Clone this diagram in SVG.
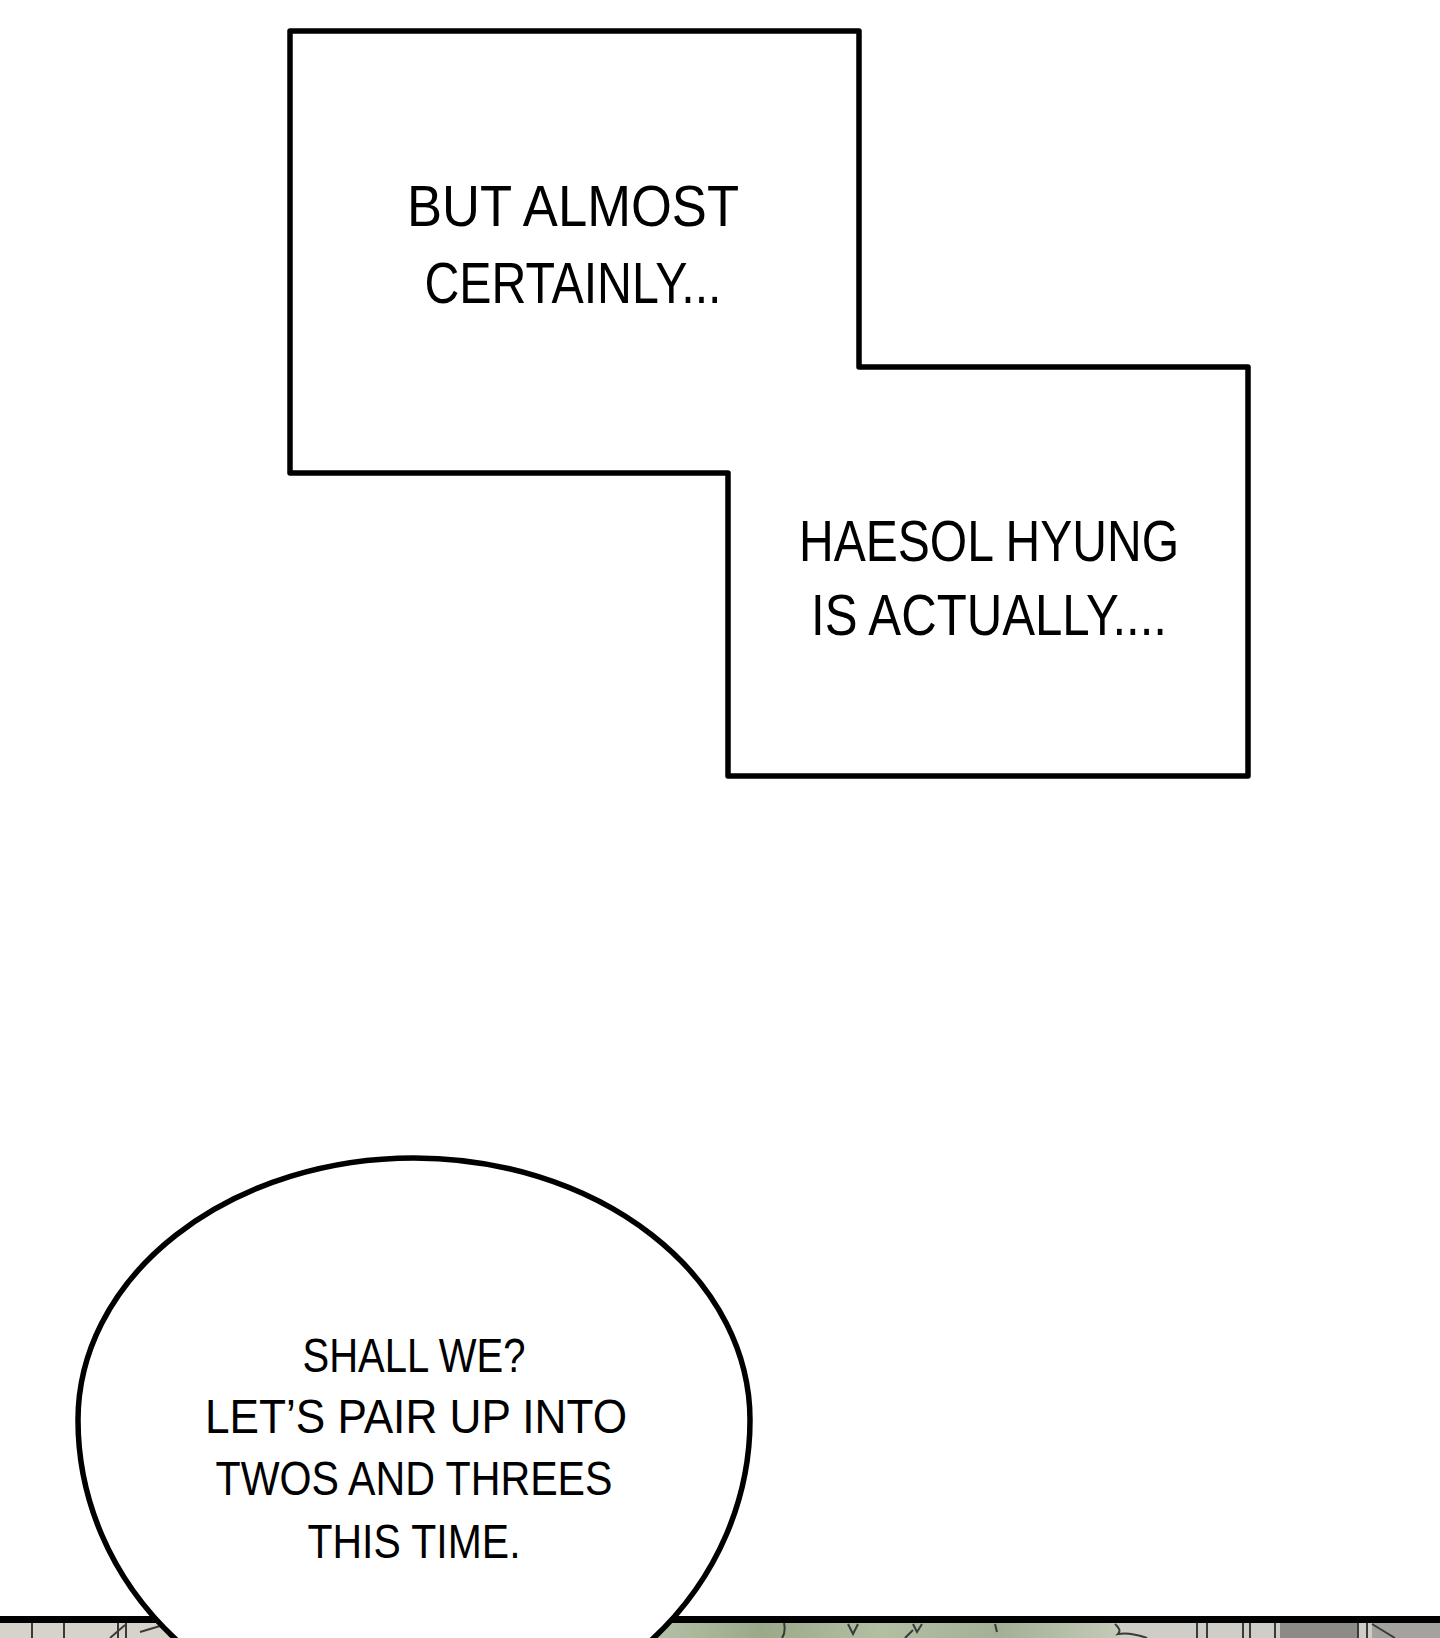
<svg xmlns="http://www.w3.org/2000/svg" width="1440" height="1638" viewBox="0 0 1440 1638">
  <style>
    .outline { fill: #ffffff; stroke: #000000; stroke-width: 5.5; stroke-linejoin: round; }
    .txt { font-family: "Liberation Sans", "DejaVu Sans", sans-serif; fill: #000000; text-anchor: middle; }
    .box { font-size: 57px; }
    .bub { font-size: 48px; }
  </style>
  <defs>
    <linearGradient id="foliage" x1="0" y1="0" x2="1" y2="0">
      <stop offset="0" stop-color="#b9c4ab"/>
      <stop offset="0.25" stop-color="#9aa98a"/>
      <stop offset="0.5" stop-color="#b3bfa3"/>
      <stop offset="0.75" stop-color="#a4b095"/>
      <stop offset="1" stop-color="#c4cbb8"/>
    </linearGradient>
  </defs>
  <rect x="0" y="0" width="1440" height="1638" fill="#ffffff"/>

  <!-- bottom panel strip -->
  <g id="bottom-panel">
    <rect x="0" y="1622" width="1440" height="16" fill="#d6d4ca"/>
    <rect x="640" y="1622" width="480" height="16" fill="url(#foliage)"/>
    <rect x="1120" y="1622" width="320" height="16" fill="#cfcdc7"/>
    <rect x="1280" y="1622" width="78" height="16" fill="#8c8b88"/>
    <rect x="1372" y="1622" width="68" height="16" fill="#a3a29f"/>
    <g stroke="#3a3a38" stroke-width="2" fill="none">
      <line x1="32" y1="1622" x2="32" y2="1638"/>
      <line x1="64" y1="1622" x2="64" y2="1638"/>
      <line x1="118" y1="1622" x2="118" y2="1638"/>
      <line x1="126" y1="1622" x2="126" y2="1638"/>
      <line x1="110" y1="1638" x2="125" y2="1625"/>
      <line x1="140" y1="1632" x2="160" y2="1626"/>
      <line x1="1197" y1="1622" x2="1197" y2="1638"/>
      <line x1="1207" y1="1622" x2="1207" y2="1638"/>
      <line x1="1243" y1="1622" x2="1243" y2="1638"/>
      <line x1="1250" y1="1622" x2="1250" y2="1638"/>
      <line x1="1275" y1="1622" x2="1275" y2="1638"/>
      <line x1="1358" y1="1622" x2="1358" y2="1638"/>
      <line x1="1367" y1="1622" x2="1367" y2="1638"/>
      <line x1="1372" y1="1624" x2="1395" y2="1638"/>
      <path d="M784,1623 Q786,1632 782,1638"/>
      <path d="M848,1624 L853,1634 L858,1624"/>
      <path d="M913,1624 L917,1632 L922,1624 M905,1638 L913,1630"/>
      <path d="M995,1624 L997,1632"/>
      <path d="M1115,1624 Q1122,1630 1118,1634 Q1130,1632 1147,1638"/>
    </g>
    <rect x="0" y="1616" width="1440" height="7" fill="#000000"/>
  </g>

  <!-- stepped caption boxes -->
  <g id="caption-boxes">
    <path class="outline" d="M290,31 H859 V367 H1248 V776 H728 V473 H290 Z"/>
  </g>
  <g id="caption-1">
    <text class="txt box" x="573" y="226" textLength="332" lengthAdjust="spacingAndGlyphs">BUT ALMOST</text>
    <text class="txt box" x="573" y="303" textLength="297" lengthAdjust="spacingAndGlyphs">CERTAINLY...</text>
  </g>
  <g id="caption-2">
    <text class="txt box" x="989" y="561" textLength="380" lengthAdjust="spacingAndGlyphs">HAESOL HYUNG</text>
    <text class="txt box" x="989" y="635" textLength="356" lengthAdjust="spacingAndGlyphs">IS ACTUALLY....</text>
  </g>

  <!-- speech bubble -->
  <g id="speech-bubble">
    <path class="outline" d="M78,1420 A336,262 0 0 1 750,1420 A336,311 0 0 1 78,1420 Z"/>
    <text class="txt bub" x="414" y="1372" textLength="223" lengthAdjust="spacingAndGlyphs">SHALL WE?</text>
    <text class="txt bub" x="416" y="1433" textLength="422" lengthAdjust="spacingAndGlyphs">LET’S PAIR UP INTO</text>
    <text class="txt bub" x="414" y="1495" textLength="397" lengthAdjust="spacingAndGlyphs">TWOS AND THREES</text>
    <text class="txt bub" x="414" y="1558" textLength="213" lengthAdjust="spacingAndGlyphs">THIS TIME.</text>
  </g>

  <g id="connectors"></g>
</svg>
